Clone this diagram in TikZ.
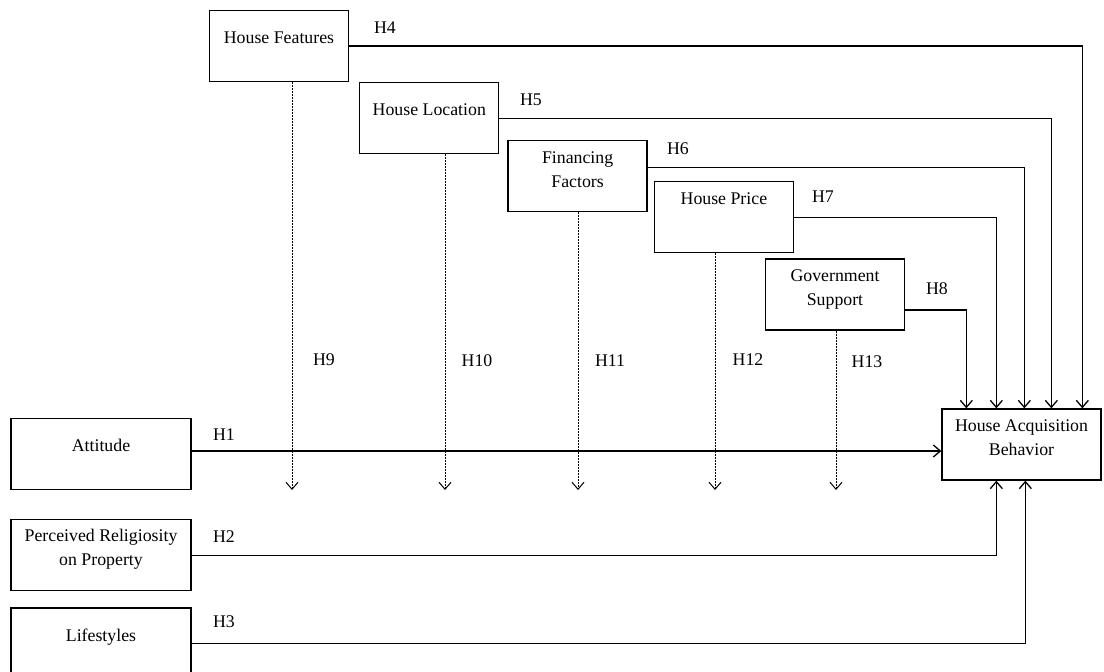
\documentclass[tikz,border=0pt]{standalone}
\usepackage{fontspec}
\setmainfont{Liberation Serif}
\usetikzlibrary{arrows.meta,positioning}

\newcommand{\lowpad}[1]{\rule[-#1]{0pt}{#1}}

\begin{document}
\begin{tikzpicture}[
    x=1pt, y=-1pt,
    font=\fontsize{17.8}{24}\selectfont,
    box/.style={draw, line width=1.3pt, align=center, minimum height=71pt, inner sep=2pt},
    topbox/.style={box, minimum width=139pt},
    sidebox/.style={box, minimum width=180pt},
    hyp/.style={inner sep=0pt},
    arrow/.style={-{Straight Barb[length=7pt,width=12pt]}, line width=1.3pt},
    modarrow/.style={arrow, line width=1pt, dash pattern=on 2pt off 1pt}
]
\useasboundingbox (0,0) rectangle (1104,672);

% moderating constructs
\node[topbox] (feat) at (279,46) {House Features\lowpad{17pt}};
\node[topbox, below right=0pt and 10pt of feat.south east] (loc) {House Location\lowpad{18pt}};
\node[topbox, below right=58pt and 8pt of loc.north east] (fin) {Financing\\Factors\lowpad{14pt}};
\node[topbox, below right=41pt and 6pt of fin.north east] (price) {House Price\lowpad{38pt}};
\node[topbox] (gov) at (835,294.5) {Government\\Support\lowpad{14pt}};

% independent constructs
\node[sidebox] (att) at (101,454) {Attitude\lowpad{18pt}};
\node[sidebox, below=29pt of att] (rel) {Perceived Religiosity\\on Property\lowpad{15pt}};
\node[sidebox, below=16pt of rel] (life) {Lifestyles\lowpad{16pt}};

% outcome
\node[box, minimum width=159pt] (hab) at (1021.5,444.5) {House Acquisition\\Behavior\lowpad{14pt}};

\coordinate (in8) at ([xshift=25pt]hab.north west);
\coordinate (in7) at ([xshift=55pt]hab.north west);
\coordinate (in6) at ([xshift=83pt]hab.north west);
\coordinate (in5) at ([xshift=110pt]hab.north west);
\coordinate (in4) at ([xshift=141pt]hab.north west);
\coordinate (out2) at ([xshift=55pt]hab.south west);
\coordinate (out3) at ([xshift=84pt]hab.south west);

\draw[arrow] ([yshift=3pt]att.east) -- ([yshift=3pt]att.east -| hab.west);
\draw[arrow] (rel.east) -| (out2);
\draw[arrow] (life.east) -| (out3);
\draw[arrow] (feat.east) -| (in4);
\draw[arrow] (loc.east) -| (in5);
\draw[arrow] ([yshift=9pt]fin.east) -| (in6);
\draw[arrow] (price.east) -| (in7);
\draw[arrow] ([yshift=-15.5pt]gov.east) -| (in8);

\foreach \n/\x in {feat/292,loc/445,fin/578,price/715,gov/836}
    \draw[modarrow] (\n.south -| \x,0) -- (\x,490);

% hypothesis labels
\node[hyp] (h1) at (224,435) {H1};
\node[hyp] (h2) at (224,537) {H2};
\node[hyp] (h3) at (224,622) {H3};
\node[hyp] (h4) at (385,28) {H4};
\node[hyp] (h5) at (531,100) {H5};
\node[hyp] (h6) at (678,149) {H6};
\node[hyp] (h7) at (823,197) {H7};
\node[hyp] (h8) at (937,289) {H8};
\node[hyp] (h9) at (324,360) {H9};
\node[hyp] (h10) at (477,361) {H10};
\node[hyp] (h11) at (610,361) {H11};
\node[hyp] (h12) at (748,360) {H12};
\node[hyp] (h13) at (867,362) {H13};
\end{tikzpicture}
\end{document}
